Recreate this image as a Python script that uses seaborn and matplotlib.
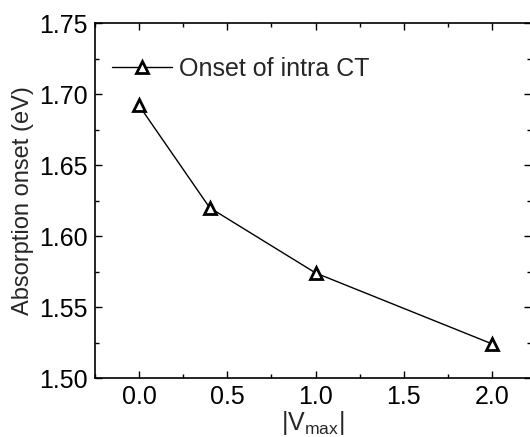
import matplotlib
matplotlib.use("Agg")
import matplotlib.pyplot as plt
import seaborn as sns
import pandas as pd
from matplotlib.ticker import MultipleLocator

vmax = [0.0, 0.4, 1.0, 2.0]
onset = [1.692, 1.620, 1.574, 1.524]
series_label = "Onset of intra CT"

sns.set_theme(style="ticks")
plt.rcParams['font.family'] = ['Liberation Sans', 'DejaVu Sans']
plt.rcParams['mathtext.fontset'] = 'custom'
plt.rcParams['mathtext.rm'] = 'Liberation Sans'

df = pd.DataFrame({"x": vmax, "y": onset, "s": [series_label] * len(vmax)})

fig = plt.figure(figsize=(5.30, 4.37), dpi=100)
ax = fig.add_axes([0.179, 0.135, 0.823, 0.812])
sns.lineplot(data=df, x="x", y="y", hue="s", palette=["black"], marker="^",
             markersize=9, markerfacecolor="white", markeredgecolor="black",
             markeredgewidth=2, linewidth=1, ax=ax)

ax.set_xlim(-0.25, 2.22)
ax.set_ylim(1.50, 1.75)
ax.xaxis.set_major_locator(MultipleLocator(0.5))
ax.xaxis.set_minor_locator(MultipleLocator(0.25))
ax.yaxis.set_major_locator(MultipleLocator(0.05))
ax.yaxis.set_minor_locator(MultipleLocator(0.025))
ax.xaxis.set_major_formatter(matplotlib.ticker.FormatStrFormatter("%.1f"))
ax.yaxis.set_major_formatter(matplotlib.ticker.FormatStrFormatter("%.2f"))
ax.tick_params(which="both", direction="in", top=True, right=True, colors="black",
               labelsize=18, width=1)
ax.tick_params(which="major", length=5, pad=5)
ax.tick_params(which="minor", length=3)
for sp in ax.spines.values():
    sp.set_color("black")
    sp.set_linewidth(1.2)

ax.set_xlabel("|V$_{\\mathregular{max}}$|", fontsize=18, labelpad=0)
ax.set_ylabel("Absorption onset (eV)", fontsize=17, labelpad=4)

leg = ax.legend(loc="upper left", bbox_to_anchor=(0.0, 0.955), frameon=False,
                fontsize=18, handlelength=2.4, handletextpad=0.25, borderaxespad=0.3)

fig.savefig("out.png", dpi=100)
